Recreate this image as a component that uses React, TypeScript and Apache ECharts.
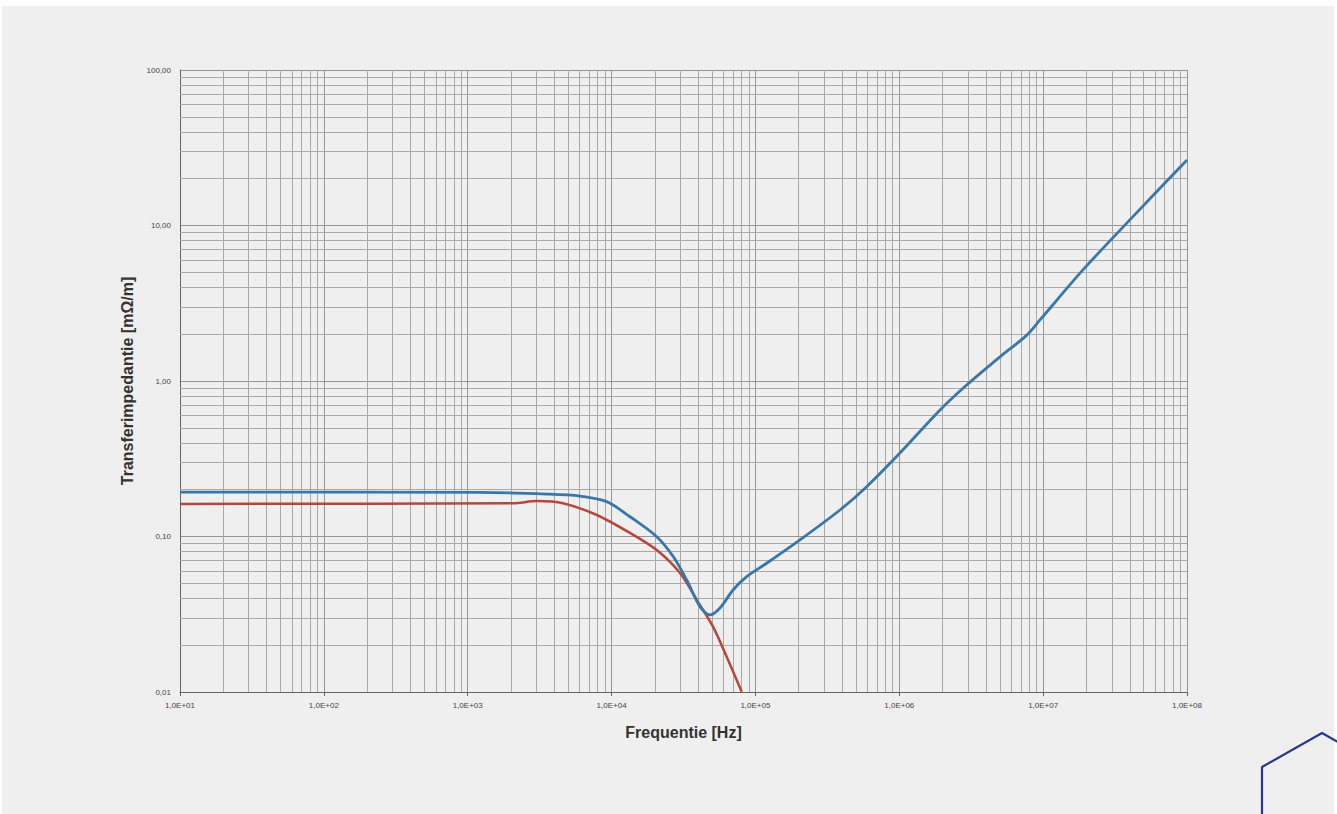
import React, { useEffect, useRef } from "react";
import * as echarts from "echarts";

// Frequency [Hz] and transfer impedance [mΩ/m]
const blueFreq = [10, 1216, 3540, 6030, 9250, 13430, 20600, 26900, 33300, 41200, 48300, 56700, 69900, 86900, 119700, 204000, 387000, 593000, 1010000, 1920000, 2940000, 5010000, 7600000, 9510000, 18900000, 42100000, 100000000];
const blueVals = [0.193, 0.192, 0.1875, 0.182, 0.1675, 0.134, 0.0997, 0.0741, 0.0525, 0.0354, 0.0313, 0.0347, 0.0453, 0.0552, 0.0673, 0.0951, 0.148, 0.209, 0.344, 0.651, 0.942, 1.43, 1.95, 2.47, 5.18, 11.4, 26.4];
const redFreq = [10, 2065, 3020, 4590, 7890, 13430, 20600, 29900, 39100, 50700, 63100, 80200];
const redVals = [0.162, 0.1637, 0.169, 0.1637, 0.1375, 0.1054, 0.0818, 0.0582, 0.0391, 0.0263, 0.01687, 0.01005];

const xDecades = [10, 100, 1000, 10000, 100000, 1000000, 10000000];
const yDecades = [0.01, 0.1, 1, 10];
const minorSteps = [2, 3, 4, 5, 6, 7, 8, 9];

export default function App() {
  const ref = useRef<HTMLDivElement>(null);
  useEffect(() => {
    if (!ref.current) return;
    const chart = echarts.init(ref.current, null, { renderer: "svg" });
    const xMinor: any[] = [];
    xDecades.forEach((d) => minorSteps.forEach((m) => xMinor.push({ xAxis: d * m })));
    const yMinor: any[] = [];
    yDecades.forEach((d) => minorSteps.forEach((m) => yMinor.push({ yAxis: +(d * m).toPrecision(3) })));
    const fontFamily = "'Liberation Sans', 'Open Sans', sans-serif";
    chart.setOption({
      animation: false,
      backgroundColor: "#ffffff",
      graphic: [
        { type: "rect", z: -10, shape: { x: 2, y: 6, width: 1332, height: 820 }, style: { fill: "#efefef" } },
        {
          type: "polyline",
          z: 100,
          shape: { points: [[1262, 820], [1262, 767], [1322, 733], [1382, 767], [1382, 820]] },
          style: { stroke: "#27378a", lineWidth: 2.2, fill: "none", lineJoin: "round" },
        },
      ],
      grid: { left: 180, right: 150, top: 70, bottom: 122, containLabel: false },
      xAxis: {
        type: "log",
        logBase: 10,
        min: 10,
        max: 100000000,
        interval: 1,
        name: "Frequentie [Hz]",
        nameLocation: "middle",
        nameGap: 32,
        nameTextStyle: { fontSize: 16, fontWeight: "bold", color: "#333", fontFamily },
        axisLine: { show: true, lineStyle: { color: "#666", width: 1 } },
        axisTick: { show: true, length: 4, lineStyle: { color: "#666" } },
        axisLabel: {
          fontSize: 8,
          color: "#444",
          margin: 9,
          fontFamily,
          formatter: (v: number) => {
            const e = Math.round(Math.log10(v));
            return "1,0E+" + (e < 10 ? "0" + e : String(e));
          },
        },
        splitLine: { show: true, lineStyle: { color: "#949494", width: 1 } },
      },
      yAxis: {
        type: "log",
        logBase: 10,
        min: 0.01,
        max: 100,
        interval: 1,
        name: "Transferimpedantie [mΩ/m]",
        nameLocation: "middle",
        nameGap: 44,
        nameTextStyle: { fontSize: 16, fontWeight: "bold", color: "#333", fontFamily },
        axisLine: { show: true, lineStyle: { color: "#666", width: 1 } },
        axisTick: { show: false },
        axisLabel: {
          fontSize: 8,
          color: "#444",
          margin: 9,
          fontFamily,
          formatter: (v: number) => v.toFixed(2).replace(".", ","),
        },
        splitLine: { show: true, lineStyle: { color: "#949494", width: 1 } },
      },
      series: [
        {
          type: "line",
          name: "grid",
          data: [],
          silent: true,
          markLine: {
            silent: true,
            symbol: "none",
            animation: false,
            label: { show: false },
            lineStyle: { color: "#a9a9a9", width: 1, type: "solid" },
            data: [...xMinor, ...yMinor],
          },
        },
        {
          type: "line",
          name: "red",
          data: redFreq.map((f, i) => [f, redVals[i]]),
          showSymbol: false,
          smooth: 0.3,
          lineStyle: { color: "#b5483d", width: 2.5 },
          z: 5,
        },
        {
          type: "line",
          name: "blue",
          data: blueFreq.map((f, i) => [f, blueVals[i]]),
          showSymbol: false,
          smooth: 0.3,
          lineStyle: { color: "#3a77a6", width: 2.8 },
          z: 6,
        },
      ],
    });
    return () => chart.dispose();
  }, []);
  return <div ref={ref} style={{ position: "fixed", left: 0, top: 0, width: 1337, height: 814 }} />;
}
